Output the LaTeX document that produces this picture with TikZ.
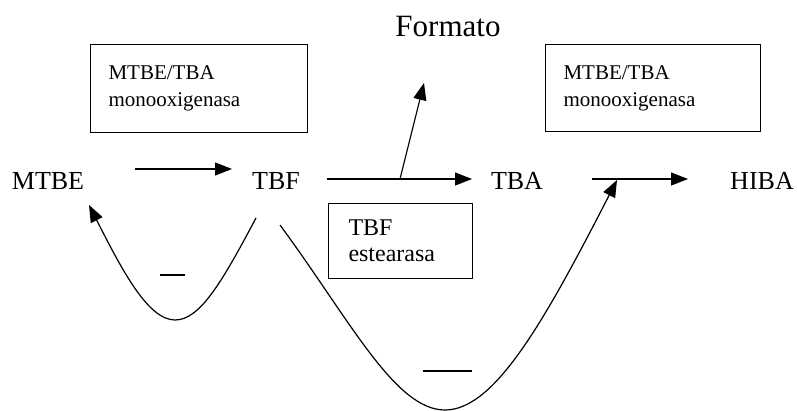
\documentclass[tikz,border=0pt]{standalone}
\usepackage{fontspec}
\setmainfont{Liberation Serif}
\usetikzlibrary{arrows.meta}

\begin{document}
\begin{tikzpicture}[x=1pt,y=-1pt,
    enz/.style={draw,line width=1pt,align=left,anchor=north west},
    spc/.style={font=\fontsize{26}{30}\selectfont,inner sep=0pt,anchor=base},
    rxn/.style={line width=1.2pt,-{Triangle[length=17pt,width=13pt]}}]
    \useasboundingbox (0,0) rectangle (797,411);
    % especies
    \node[spc] (mtbe) at (48,190) {MTBE};
    \node[spc] (tbf) at (276,190) {TBF};
    \node[spc] (tba) at (517,190) {TBA};
    \node[spc] (hiba) at (762,190) {HIBA};
    \node[spc,font=\fontsize{31}{36}\selectfont] (formato) at (448,37) {Formato};
    % enzimas
    \node[enz,font=\fontsize{21}{27}\selectfont,inner xsep=18pt,text width=181pt,minimum height=88pt] (mono1) at (90,44) {MTBE/TBA\\monooxigenasa};
    \node[enz,font=\fontsize{21}{27}\selectfont,inner xsep=18pt,text width=179pt,minimum height=87pt] (mono2) at (545,44) {MTBE/TBA\\monooxigenasa};
    \node[enz,font=\fontsize{24}{26}\selectfont,inner xsep=20pt,text width=104pt,minimum height=75pt] (est) at (328,203) {TBF\\estearasa};
    % flechas
    \coordinate (a1s) at (135,169);
    \coordinate (a1e) at (232,169);
    \coordinate (a2s) at (327,179);
    \coordinate (a2e) at (472,179);
    \coordinate (ramal) at (400,179);
    \coordinate (fmt) at (424,83);
    \coordinate (a3s) at (592,179);
    \coordinate (a3e) at (688,179);
    \coordinate (c1s) at (256,218);
    \coordinate (c1b) at (175,320);
    \coordinate (c1e) at (89,205);
    \coordinate (c2s) at (280,225);
    \coordinate (c2b) at (445,410);
    \coordinate (c2e) at (617,180);
    \draw[rxn] (a1s) -- (a1e);
    \draw[rxn] (a2s) -- (a2e);
    \draw[rxn] (ramal) -- (fmt);
    \draw[rxn] (a3s) -- (a3e);
    \draw[rxn] (c1s) .. controls (222,282) and (200,320) .. (c1b) .. controls (148,320) and (122,270) .. (c1e);
    \draw[rxn] (c2s) .. controls (350,320) and (395,410) .. (c2b) .. controls (495,410) and (545,320) .. (c2e);
    \draw[line width=1.2pt] (160,275) -- (185,275);
    \draw[line width=1.2pt] (423,371) -- (472,371);
\end{tikzpicture}
\end{document}
